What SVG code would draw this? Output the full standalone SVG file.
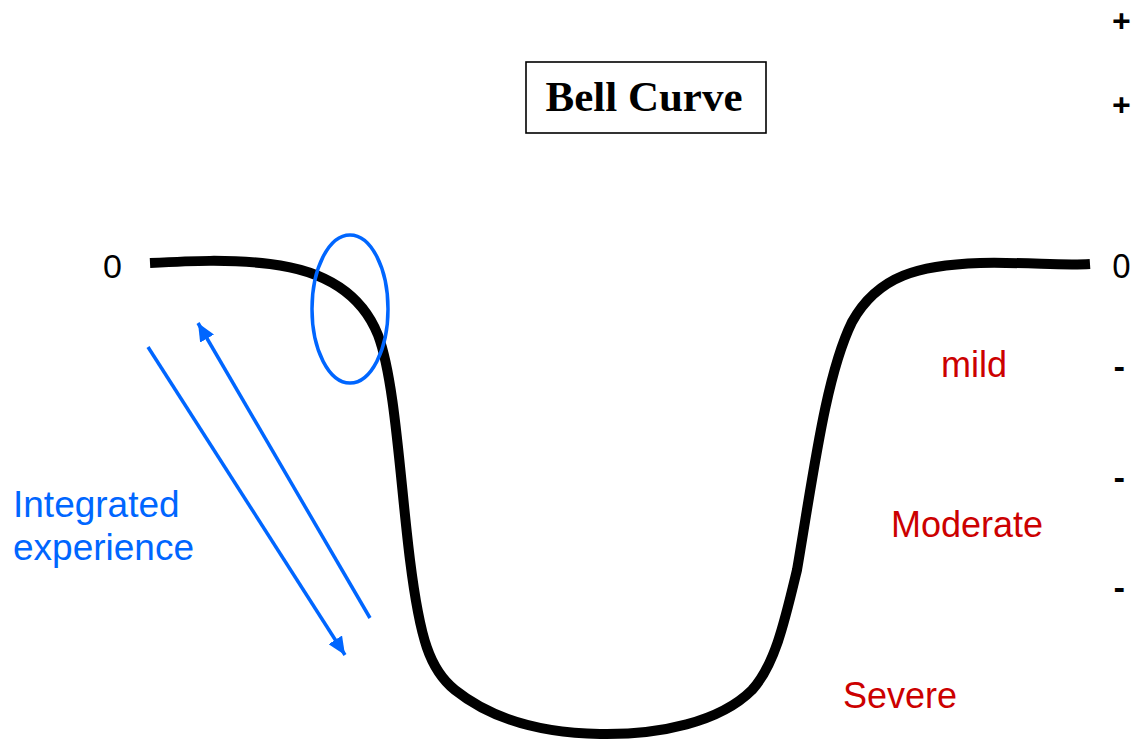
<svg xmlns="http://www.w3.org/2000/svg" width="1138" height="741" viewBox="0 0 1138 741">
<style>
.lbl{font-family:"Liberation Sans",Arial,sans-serif;font-size:34px;fill:#000}
.red{font-family:"Liberation Sans",Arial,sans-serif;font-size:36px;fill:#cc0000}
.blue{font-family:"Liberation Sans",Arial,sans-serif;font-size:37px;fill:#0066ff}
.scale{font-family:"Noto Sans","Open Sans",sans-serif;font-size:33px;fill:#000}
.bl{stroke:#0066ff;stroke-width:3.5;fill:none}
</style>
<defs>
<marker id="ah" markerUnits="userSpaceOnUse" markerWidth="20" markerHeight="16" refX="18" refY="8" orient="auto">
<path d="M0,0 L18,8 L0,16 Z" fill="#0066ff"/>
</marker>
</defs>
<rect width="1138" height="741" fill="#fff"/>
<g id="title">
<rect x="526" y="62" width="240" height="71" fill="#fff" stroke="#000" stroke-width="1.6"/>
<text x="644" y="111" text-anchor="middle" font-family="'Liberation Serif','Times New Roman',serif" font-weight="bold" font-size="43">Bell Curve</text>
</g>
<g id="curve">
<path d="M150,263 C190,261 230,259 270,264 C320,270 360,290 378,335 C395,380 400,480 410,560 C420,640 430,670 455,690 C490,718 540,733 600,734 C660,735 720,722 752,690 C775,665 785,620 797,570 C814,470 826,375 852,322 C878,275 920,265 980,263 C1030,262 1060,266 1090,264" fill="none" stroke="#000" stroke-width="10"/>
</g>
<g id="highlight">
<ellipse cx="350" cy="309" rx="38" ry="74" class="bl"/>
</g>
<g id="connectors">
<line x1="148" y1="347" x2="345" y2="655" class="bl" marker-end="url(#ah)"/>
<line x1="370" y1="618" x2="198" y2="323" class="bl" marker-end="url(#ah)"/>
</g>
<g id="labels">
<text x="103" y="278" class="lbl">0</text>
<text x="13" y="517" class="blue">Integrated</text>
<text x="13" y="560" class="blue">experience</text>
<text x="941" y="377" class="red">mild</text>
<text x="891" y="537" class="red">Moderate</text>
<text x="843" y="708" class="red">Severe</text>
</g>
<g id="scale">
<text x="1112" y="33" class="scale" font-weight="bold">+</text>
<text x="1112" y="117" class="scale" font-weight="bold">+</text>
<text x="1112" y="278" class="scale">0</text>
<text x="1114" y="378" class="scale" font-weight="bold">-</text>
<text x="1114" y="489" class="scale" font-weight="bold">-</text>
<text x="1114" y="599" class="scale" font-weight="bold">-</text>
</g>
</svg>
